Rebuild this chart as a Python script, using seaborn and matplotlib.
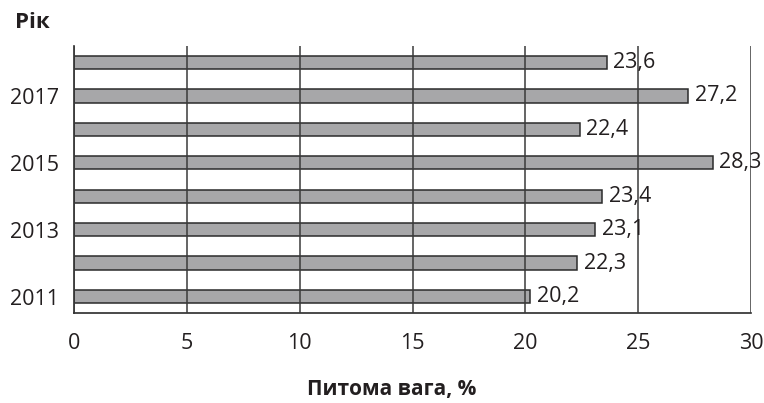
import matplotlib
matplotlib.use("Agg")
import matplotlib.pyplot as plt
import numpy as np
import pandas as pd
import seaborn as sns

# data, top to bottom as drawn
years = [2018, 2017, 2016, 2015, 2014, 2013, 2012, 2011]
values = [23.6, 27.2, 22.4, 28.3, 23.4, 23.1, 22.3, 20.2]
shown_years = [2017, 2015, 2013, 2011]
x_ticks = [0, 5, 10, 15, 20, 25, 30]

sns.set_style("white")
plt.rcParams["font.family"] = ["Open Sans", "DejaVu Sans"]

df = pd.DataFrame({"year": [str(y) for y in years], "value": values})

fig = plt.figure(figsize=(7.64, 4.03), dpi=100)
ax = fig.add_axes([0.097, 0.2226, 0.886, 0.664])

sns.barplot(data=df, x="value", y="year", order=df["year"], orient="h",
            color="#a7a7a9", edgecolor="#2b2b2b", linewidth=1.1,
            width=0.4, saturation=1, ax=ax)

for i, v in enumerate(values):
    ax.text(v + 0.3, i, f"{v:.1f}".replace(".", ","), va="center", ha="left",
            fontsize=15.5, color="#231f20", zorder=4)

ax.set_xlim(0, 30)
ax.set_ylim(len(years) - 0.5, -0.5)
ax.set_xticks(x_ticks)
ax.set_xticklabels([str(t) for t in x_ticks], fontsize=15.5, color="#231f20")
ax.set_yticks(range(len(years)))
ax.set_yticklabels([str(y) if y in shown_years else "" for y in years],
                   fontsize=15.5, color="#231f20")
ax.set_yticks(np.arange(-0.5, len(years)), minor=True)
ax.tick_params(axis="y", which="major", length=0, pad=11)
ax.tick_params(axis="y", which="minor", length=6, width=1.2, color="#2b2b2b", direction="out")
ax.tick_params(axis="x", which="major", length=4, width=1.2, color="#2b2b2b", direction="out", pad=10)

ax.set_axisbelow(False)
ax.grid(axis="x", color="#3a3a3a", linewidth=1.1)
ax.grid(axis="y", visible=False)
sns.despine(ax=ax, top=True, right=True)
for s in ["left", "bottom"]:
    ax.spines[s].set_color("#2b2b2b")
    ax.spines[s].set_linewidth(1.2)

ax.set_xlabel("")
ax.set_ylabel("")
fig.text(0.513, 0.033, "Питома вага, %", fontsize=15, fontweight="bold",
         color="#231f20", ha="center", va="center")
fig.text(0.019, 0.944, "Рік", fontsize=16, fontweight="bold", color="#231f20",
         ha="left", va="center")

fig.savefig("out.png", dpi=100)
